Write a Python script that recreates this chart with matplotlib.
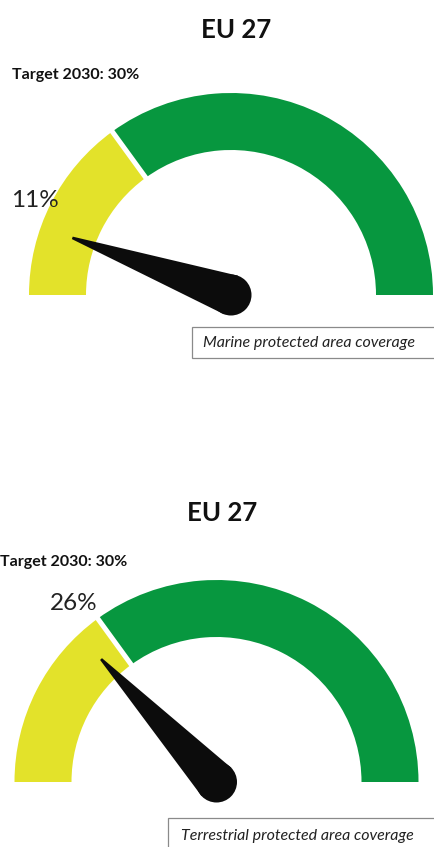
import numpy as np
import matplotlib
matplotlib.use("Agg")
import matplotlib.pyplot as plt
from matplotlib.patches import Wedge, Circle, Polygon, Rectangle

# Gauge data (share of area protected, %)
titles = ["EU 27", "EU 27"]
target_labels = ["Target 2030: 30%", "Target 2030: 30%"]
target_pct = [30, 30]
current_pct = [11, 26]
value_labels = ["11%", "26%"]
captions = ["Marine protected area coverage", "Terrestrial protected area coverage"]

YELLOW = "#e3e22a"
GREEN = "#07973f"
NEEDLE = "#0c0c0c"
H = 847  # figure height in px, used to flip y


def y(px):
    return H - px


# layout per gauge (pixel positions measured from the top)
centers = [(231, 295), (216.5, 782)]
title_pos = [(236, 30), (222, 513)]
target_pos = [(12, 75), (0, 562)]
label_pos = [(11, 200), (50, 603)]
box_pos = [(192, 327, 244, 31), (168, 818, 268, 35)]
R_OUT = 202
R_IN = 145

fig = plt.figure(figsize=(4.34, 8.47), dpi=100)
ax = fig.add_axes([0, 0, 1, 1])
ax.set_xlim(0, 434)
ax.set_ylim(0, H)
ax.set_aspect("equal")
ax.axis("off")

font = "Lato"

for i in range(2):
    cx, cy = centers[i][0], y(centers[i][1])
    split = 180 - target_pct[i] / 100 * 180
    ax.add_patch(Wedge((cx, cy), R_OUT, split, 180, width=R_OUT - R_IN,
                       facecolor=YELLOW, edgecolor="none"))
    ax.add_patch(Wedge((cx, cy), R_OUT, 0, split, width=R_OUT - R_IN,
                       facecolor=GREEN, edgecolor="none"))
    # white gap at the target position
    a = np.deg2rad(split)
    ax.plot([cx + (R_IN - 3) * np.cos(a), cx + (R_OUT + 3) * np.cos(a)],
            [cy + (R_IN - 3) * np.sin(a), cy + (R_OUT + 3) * np.sin(a)],
            color="white", lw=3.6, solid_capstyle="butt")

    # needle
    ang = np.deg2rad(180 - current_pct[i] / 100 * 180)
    tip_r = 0.835 * R_OUT
    base_r = 20.5
    px, py = -np.sin(ang), np.cos(ang)
    tip = (cx + tip_r * np.cos(ang), cy + tip_r * np.sin(ang))
    pts = [
        (tip[0] + 1.3 * px, tip[1] + 1.3 * py),
        (tip[0] - 1.3 * px, tip[1] - 1.3 * py),
        (cx - base_r * px, cy - base_r * py),
        (cx + base_r * px, cy + base_r * py),
    ]
    ax.add_patch(Polygon(pts, closed=True, facecolor=NEEDLE, edgecolor="none"))
    ax.add_patch(Circle((cx, cy), base_r, facecolor=NEEDLE, edgecolor="none"))

    # texts
    ax.text(title_pos[i][0], y(title_pos[i][1]), titles[i], ha="center", va="center",
            fontsize=18.5, fontweight="bold", family=font, color="#111111")
    ax.text(target_pos[i][0], y(target_pos[i][1]), target_labels[i], ha="left",
            va="center", fontsize=11.5, fontweight="bold", family=font, color="#111111")
    ax.text(label_pos[i][0], y(label_pos[i][1]), value_labels[i], ha="left",
            va="center", fontsize=17.5, family=font, color="#222222")

    bx, by, bw, bh = box_pos[i]
    ax.add_patch(Rectangle((bx, y(by + bh)), bw, bh, facecolor="white",
                           edgecolor="#8a8a8a", lw=0.9))
    ax.text(bx + bw / 2 - 5, y(by + bh / 2), captions[i], ha="center", va="center",
            fontsize=11.5, style="italic", family=font, color="#222222")

fig.savefig("out.png", dpi=100)
